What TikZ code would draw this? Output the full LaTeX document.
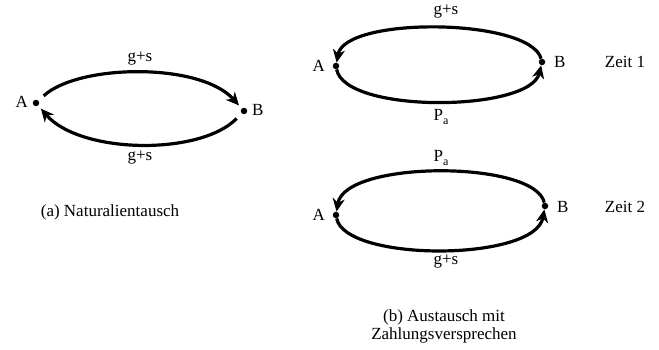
\documentclass[tikz,border=0pt]{standalone}
\usepackage{fontspec}
\setmainfont{Liberation Serif}
\usetikzlibrary{arrows.meta}
\begin{document}
\begin{tikzpicture}[x=1pt,y=-1pt,
  every node/.style={font=\fontsize{17}{20}\selectfont},
  dot/.style={circle,fill=black,inner sep=0pt,minimum size=6.5pt},
  flow/.style={line width=3.2pt,-{Stealth[length=13pt,width=12pt,inset=4pt]}},
  lbl/.style={inner sep=1pt}]
\useasboundingbox (0,0) rectangle (659,350);
\fill[white] (0,0) rectangle (659,350);
% (a)
\node[dot] (a1) at (36,103) {};
\node[dot] (b1) at (244,111) {};
\node[lbl,anchor=east] (la1) at (29,102) {A};
\node[lbl,anchor=west] (lb1) at (251,110) {B};
\draw[flow,shorten <=7pt,shorten >=4pt] (a1) .. controls (78,64) and (200,62) .. (b1);
\draw[flow,shorten <=7pt,shorten >=4pt] (b1) .. controls (200,156) and (80,154) .. (a1);
\node (ga1) at (140,59) {g+s};
\node (ga2) at (140,158) {g+s};
\node (capa) at (110,212) {(a) Naturalientausch};
% (b) Zeit 1
\node[dot] (a2) at (336,66) {};
\node[dot] (b2) at (542,62) {};
\node[lbl,anchor=east] (la2) at (326,66) {A};
\node[lbl,anchor=west] (lb2) at (553,62) {B};
\draw[flow] (b2) .. controls (530,18) and (345,16) .. (a2);
\draw[flow] (a2) .. controls (345,114) and (530,112) .. (b2);
\node (gb1) at (446,12) {g+s};
\node (pb1) at (441,117) {P\raisebox{-4pt}{\fontsize{12}{12}\selectfont a}};
\node (z1) at (625,62) {Zeit 1};
% (b) Zeit 2
\node[dot] (a3) at (336,215) {};
\node[dot] (b3) at (545,206) {};
\node[lbl,anchor=east] (la3) at (326,215) {A};
\node[lbl,anchor=west] (lb3) at (556,207) {B};
\draw[flow] (b3) .. controls (535,160) and (345,160) .. (a3);
\draw[flow] (a3) .. controls (345,262) and (535,262) .. (b3);
\node (pb2) at (441,158) {P\raisebox{-4pt}{\fontsize{12}{12}\selectfont a}};
\node (gb2) at (446,262) {g+s};
\node (z2) at (625,207) {Zeit 2};
\node[align=center] (capb) at (444,326) {(b) Austausch mit\\[-2pt]Zahlungsversprechen};
\end{tikzpicture}
\end{document}
